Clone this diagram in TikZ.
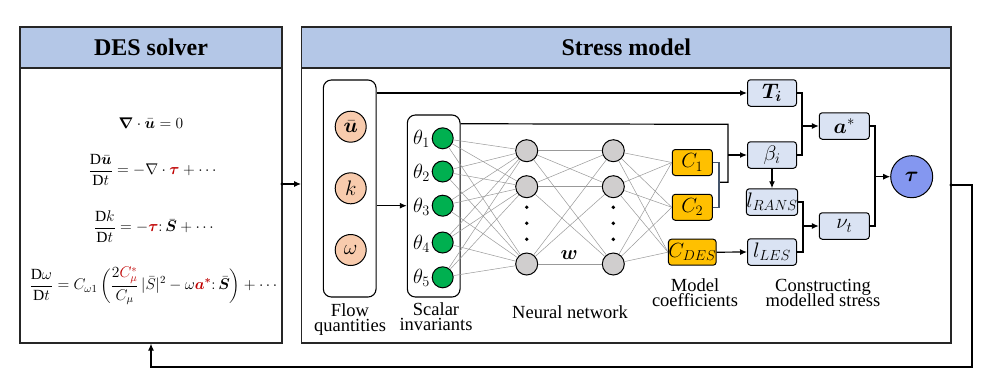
\RequirePackage{fix-cm}
\documentclass[tikz,border=0pt]{standalone}
\usepackage{amsmath}
\usepackage{bm}
\usepackage{fontspec}
\setmainfont{Liberation Serif}
\usetikzlibrary{arrows.meta,calc}
\definecolor{hdr}{HTML}{B4C7E7}
\definecolor{peach}{HTML}{F8CBAD}
\definecolor{nngreen}{HTML}{00B050}
\definecolor{nngray}{HTML}{D0CECE}
\definecolor{coef}{HTML}{FFC000}
\definecolor{lbox}{HTML}{DAE3F3}
\definecolor{taucol}{HTML}{8497F0}
\definecolor{eqred}{HTML}{C00000}
\definecolor{brk}{HTML}{44546A}
\newcommand\mylblfont{\fontsize{18.5}{15}\selectfont\lineskiplimit=-20pt\relax}
\begin{document}
\begin{tikzpicture}[x=1pt,y=-1pt,
 panel/.style={draw=black!85, line width=1.2pt, fill=white, inner sep=0pt},
 hdrbox/.style={draw=black!85, line width=1.2pt, fill=hdr, inner sep=0pt, font=\fontsize{24}{28}\selectfont\bfseries},
 grp/.style={draw, line width=1.1pt, rounded corners=8pt, fill=white, inner sep=0pt},
 flowc/.style={circle, draw, line width=1pt, fill=peach, minimum size=31pt, inner sep=0pt, font=\fontsize{21}{22}\selectfont},
 greenc/.style={circle, draw, line width=1pt, fill=nngreen, minimum size=21pt, inner sep=0pt},
 grayc/.style={circle, draw, line width=1pt, fill=nngray, minimum size=22pt, inner sep=0pt},
 coefbox/.style={draw, line width=1pt, rounded corners=3pt, fill=coef, minimum width=40pt, minimum height=26pt, inner sep=0pt, font=\fontsize{20.5}{22}\selectfont},
 lbbox/.style={draw, line width=1pt, rounded corners=3pt, fill=lbox, minimum width=49pt, minimum height=26.5pt, inner sep=0pt, font=\fontsize{21}{22}\selectfont},
 conn/.style={line width=1.2pt},
 arrc/.style={line width=1.2pt, -{Latex[length=7pt,width=6pt]}},
 nnedge/.style={draw=black!40, line width=0.5pt},
 lbl/.style={align=center, font=\mylblfont, inner sep=0pt},
 thl/.style={inner sep=0pt, font=\fontsize{20.5}{22}\selectfont},
 eqn/.style={inner sep=0pt, font=\fontsize{15.5}{18}\selectfont},
 dotc/.style={circle, fill=black, inner sep=0pt, minimum size=3.5pt}
]
\useasboundingbox (0,0) rectangle (987,380);

% panels
\node[panel, minimum width=262pt, minimum height=316pt] (des) at (151,185) {};
\node[hdrbox, minimum width=262pt, minimum height=41pt] (deshdr) at (151,47.5) {DES solver};
\node[panel, minimum width=649.3pt, minimum height=316pt] (stress) at (626.35,185) {};
\node[hdrbox, minimum width=649.3pt, minimum height=41pt] (stresshdr) at (626.35,47.5) {Stress model};

% equations
\node[eqn] (eq1) at (151,122.7) {$\boldsymbol{\nabla}\cdot\bar{\bm{u}}=0$};
\node[eqn] (eq2) at (153.8,170) {$\displaystyle\frac{\mathrm{D}\bar{\bm{u}}}{\mathrm{D}t}=-\nabla\cdot\textcolor{eqred}{\bm{\tau}}+\cdots$};
\node[eqn] (eq3) at (155,226.7) {$\displaystyle\frac{\mathrm{D}k}{\mathrm{D}t}=-\textcolor{eqred}{\bm{\tau}}{:}\,\bar{\bm{S}}+\cdots$};
\node[eqn] (eq4) at (154.7,286) {$\displaystyle\frac{\mathrm{D}\omega}{\mathrm{D}t}=C_{\omega1}\left(\frac{2\textcolor{eqred}{C_\mu^*}}{C_\mu}\,|\bar{S}|^2-\omega\textcolor{eqred}{\bm{a}^{\bm{*}}}{:}\,\bar{\bm{S}}\right)+\cdots$};

% DES -> stress, feedback
\node[dotc] (d1) at (282,184) {};
\draw[arrc] (d1.center) -- (d1 -| stress.west);
\node[dotc] (d2) at (951,185) {};
\draw[arrc] (d2.center) -- (972,185) -- (972,367) -- (151,367) -- (des.south);

% flow quantities
\node[grp, minimum width=52.7pt, minimum height=217pt] (flow) at (349.7,188.5) {};
\node[flowc] (fu) at (350.7,126.7) {$\bar{\bm{u}}$};
\node[flowc] (fk) at (350.7,188.3) {$k$};
\node[flowc] (fw) at (350.7,250) {$\omega$};

% scalar invariants
\node[grp, minimum width=52.7pt, minimum height=182pt] (scal) at (433.7,206) {};
\foreach \i/\yy in {1/138.3,2/171.5,3/205.7,4/242.5,5/277.3}{
  \node[greenc] (g\i) at (442.7,\yy) {};
  \node[thl] (th\i) at (421.5,\yy+1) {$\theta_{\i}$};
}

% hidden layers
\foreach \j/\yy in {1/150.7,2/186.7,3/264}{
  \node[grayc] (ha\j) at (526.7,\yy) {};
  \node[grayc] (hb\j) at (613.3,\yy) {};
}
\foreach \k/\yy in {1/207.3,2/223.3,3/239.3}{
  \fill (526.7,\yy) circle (1.9pt);
  \fill (613.3,\yy) circle (1.9pt);
}
\node[inner sep=0pt, font=\fontsize{20}{22}\selectfont] (wlab) at (569.3,255) {$\bm{w}$};

% outputs
\node[coefbox] (c1) at (692.3,162.5) {$C_1$};
\node[coefbox] (c2) at (692.3,207.3) {$C_2$};
\node[coefbox] (cd) at (692.3,252.2) {$C_{DES}$};

% network edges
\foreach \i in {1,...,5}{\foreach \j in {1,2,3}{\draw[nnedge] (g\i) -- (ha\j);}}
\foreach \i in {1,2,3}{\foreach \j in {1,2,3}{\draw[nnedge] (ha\i) -- (hb\j);}}
\draw[nnedge] (hb1) -- (c1.west); \draw[nnedge] (hb1) -- (c2.west); \draw[nnedge] (hb1) -- (cd.west);
\draw[nnedge] (hb2) -- (c1.west); \draw[nnedge] (hb2) -- (c2.west); \draw[nnedge] (hb2) -- (cd.west);
\draw[nnedge] (hb3) -- (c1.west); \draw[nnedge] (hb3) -- (c2.west); \draw[nnedge] (hb3) -- (cd.west);

% right boxes
\node[lbbox] (Ti) at (772,93) {$\bm{T_i}$};
\node[lbbox] (beta) at (772,155) {$\beta_i$};
\node[lbbox] (lr) at (772,202) {$l_{RANS}$};
\node[lbbox] (ll) at (772,252) {$l_{LES}$};
\node[lbbox, minimum width=50pt] (as) at (844.3,126) {$\bm{a}^*$};
\node[lbbox, minimum width=50pt] (nu) at (844.3,226) {$\nu_t$};
\node[circle, draw, line width=1pt, fill=taucol, minimum size=42pt, inner sep=0pt, font=\fontsize{21}{22}\selectfont] (tau) at (911.7,176.7) {$\bm{\tau}$};

% connectors
\draw[arrc] (flow.east |- Ti) -- (Ti.west);
\draw[arrc] (flow.east |- g3) -- (scal.west |- g3);
\draw[conn] ($(scal.north east)+(0,9.3)$) -- (728,124.3) -- (728,182.3) -- (719,182.3);
\draw[line width=1.2pt, draw=brk] (c1.east) -- (719,162.5) -- (719,207.3) -- (c2.east);
\draw[arrc] (728,155) -- (beta.west);
\draw[arrc] (cd.east) -- (ll.west);
\draw[arrc] (beta.south) -- (lr.north);
\draw[conn] (Ti.east) -- (802,93) -- (802,155) -- (beta.east);
\draw[arrc] (802,126) -- (as.west);
\draw[conn] (lr.east) -- (803,202) -- (803,252) -- (ll.east);
\draw[arrc] (803,226) -- (nu.west);
\draw[conn] (as.east) -- (875,126) -- (875,226) -- (nu.east);
\draw[arrc] (875,176.7) -- (tau.west);

% labels
\node[lbl] (lflow) at (350,319.2) {Flow\\quantities};
\node[lbl] (lscal) at (436,316.7) {Scalar\\invariants};
\node[lbl] (lnn) at (570,311.7) {Neural network};
\node[lbl] (lcoef) at (695,292.5) {Model\\coefficients};
\node[lbl] (lcons) at (823,293) {Constructing\\modelled stress};
\end{tikzpicture}
\end{document}
